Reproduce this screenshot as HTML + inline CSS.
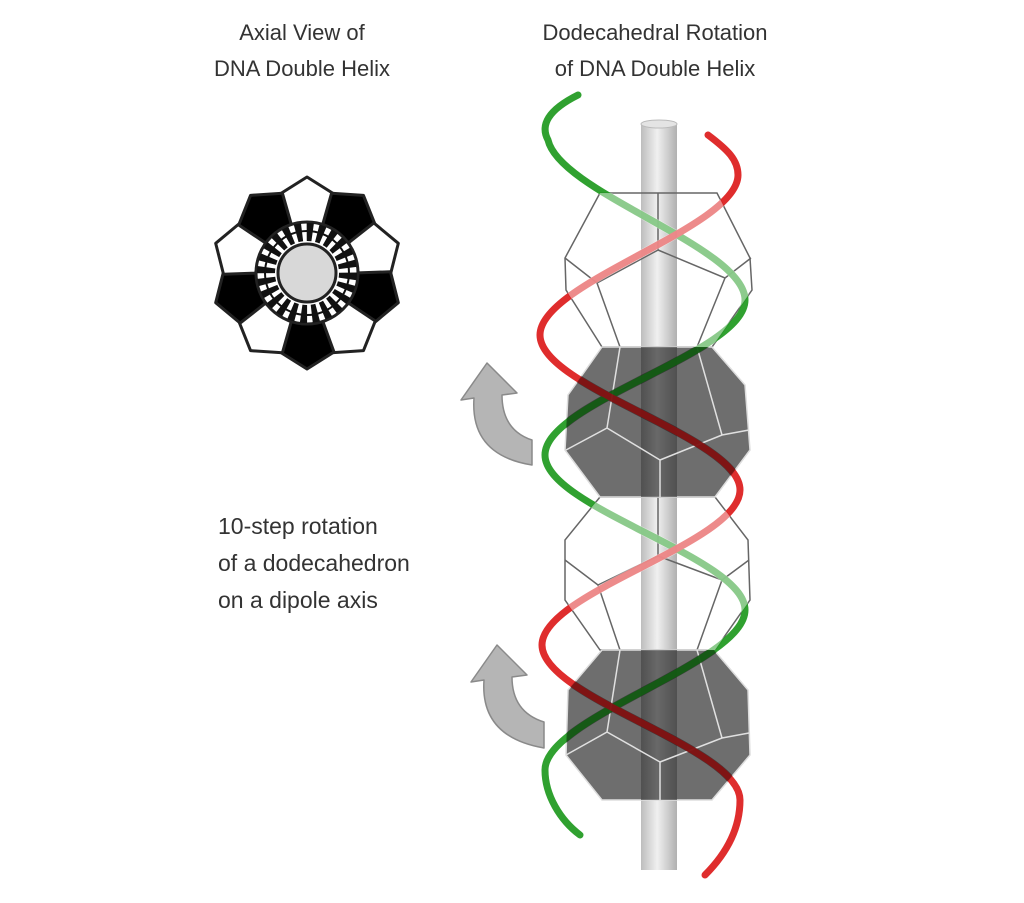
<!DOCTYPE html>
<html><head><style>
html,body{margin:0;padding:0;background:#fff}
svg{display:block}
text{font-family:"Liberation Sans",sans-serif;fill:#333}
</style></head><body>
<svg width="1024" height="903" viewBox="0 0 1024 903" xmlns="http://www.w3.org/2000/svg">
<defs>
<linearGradient id="rod" x1="0" x2="1">
<stop offset="0" stop-color="#bdbdbd"/><stop offset="0.45" stop-color="#f0f0f0"/><stop offset="1" stop-color="#b0b0b0"/>
</linearGradient>
<linearGradient id="rodd" x1="0" x2="1">
<stop offset="0" stop-color="#444"/><stop offset="0.45" stop-color="#666"/><stop offset="1" stop-color="#444"/>
</linearGradient>
<clipPath id="cw">
<polygon points="600,193 717,193 750,258 752,290 712,347 602,347 566,290 565,258"/>
<polygon points="600,497 715,497 748,540 750,600 715,650 600,650 565,600 565,540"/>
</clipPath>
<clipPath id="cg">
<polygon points="602,347 712,347 745,385 750,450 715,497 600,497 565,450 568,395"/>
<polygon points="602,650 714,650 748,690 750,755 712,800 602,800 566,755 568,690"/>
</clipPath>
<path id="gs" d="M578,95 C548,110 540,125 548,140 C560,193 745,247 745,300 C745,353 545,402 545,455 C545,508 745,557 745,610 C745,663 545,717 545,770 C545,795 560,820 580,835"/>
<path id="rs" d="M708,135 C728,150 738,160 738,175 C738,228 540,282 540,335 C540,388 740,437 740,490 C740,543 542,592 542,645 C542,698 740,747 740,800 C740,830 725,855 705,875"/>
</defs>
<rect width="1024" height="903" fill="#fff"/>
<g font-size="22" text-anchor="middle">
<text x="302" y="40">Axial View of</text>
<text x="302" y="76">DNA Double Helix</text>
<text x="655" y="40">Dodecahedral Rotation</text>
<text x="655" y="76">of DNA Double Helix</text>
</g>
<g font-size="23">
<text x="218" y="534">10-step rotation</text>
<text x="218" y="571">of a dodecahedron</text>
<text x="218" y="608">on a dipole axis</text>
</g>

<!-- axial view -->
<g transform="translate(307,273)" stroke="#222" stroke-width="3" stroke-linejoin="round">
<polygon points="-16,-49 -27,-79 0,-96 27,-79 16,-49" fill="#fff"/>
<polygon transform="rotate(36)" points="-16,-49 -27,-79 0,-96 27,-79 16,-49" fill="#000"/>
<polygon transform="rotate(72)" points="-16,-49 -27,-79 0,-96 27,-79 16,-49" fill="#fff"/>
<polygon transform="rotate(108)" points="-16,-49 -27,-79 0,-96 27,-79 16,-49" fill="#000"/>
<polygon transform="rotate(144)" points="-16,-49 -27,-79 0,-96 27,-79 16,-49" fill="#fff"/>
<polygon transform="rotate(180)" points="-16,-49 -27,-79 0,-96 27,-79 16,-49" fill="#000"/>
<polygon transform="rotate(216)" points="-16,-49 -27,-79 0,-96 27,-79 16,-49" fill="#fff"/>
<polygon transform="rotate(252)" points="-16,-49 -27,-79 0,-96 27,-79 16,-49" fill="#000"/>
<polygon transform="rotate(288)" points="-16,-49 -27,-79 0,-96 27,-79 16,-49" fill="#fff"/>
<polygon transform="rotate(324)" points="-16,-49 -27,-79 0,-96 27,-79 16,-49" fill="#000"/>
<circle r="51" fill="#fff"/>
<circle r="41" fill="none" stroke="#111" stroke-width="18" stroke-dasharray="6 4.7"/>
<circle r="42" fill="none" stroke="#111" stroke-width="2"/>
<circle r="29" fill="#d8d8d8" stroke="#222" stroke-width="3"/>
</g>

<!-- rod -->
<rect x="641" y="124" width="36" height="746" fill="url(#rod)"/>
<ellipse cx="659" cy="124" rx="18" ry="4" fill="#e4e4e4" stroke="#bbb"/>

<!-- white blocks -->
<g fill="none" stroke="#666" stroke-width="1.5">
<polygon points="600,193 717,193 750,258 752,290 712,347 602,347 566,290 565,258"/>
<path d="M658,193 L658,250 L597,283 L565,258 M597,283 L620,347 M658,250 L725,278 L751,258 M725,278 L697,347"/>
<polygon points="600,497 715,497 748,540 750,600 715,650 600,650 565,600 565,540"/>
<path d="M658,497 L658,556 L598,585 L565,560 M598,585 L620,650 M658,556 L722,580 L749,560 M722,580 L697,650"/>
</g>
<!-- gray blocks -->
<g stroke="#ddd" stroke-width="1.5">
<polygon points="602,347 712,347 745,385 750,450 715,497 600,497 565,450 568,395" fill="#6e6e6e"/>
<polygon points="602,650 714,650 748,690 750,755 712,800 602,800 566,755 568,690" fill="#6e6e6e"/>
</g>
<rect x="641" y="347" width="36" height="150" fill="url(#rodd)" opacity="0.7"/>
<rect x="641" y="650" width="36" height="150" fill="url(#rodd)" opacity="0.7"/>
<g fill="none" stroke="#e0e0e0" stroke-width="1.5">
<path d="M620,347 L607,428 L566,450 M607,428 L660,460 L660,497 M660,460 L722,435 L749,430 M697,347 L722,435"/>
<path d="M620,650 L607,732 L566,755 M607,732 L660,762 L660,800 M660,762 L722,738 L749,733 M697,650 L722,738"/>
</g>

<!-- helices -->
<g fill="none" stroke-width="7" stroke-linecap="round" opacity="0.92">
<use href="#gs" stroke="#1f9a1f"/>
<use href="#rs" stroke="#dd1c1c"/>
</g>
<g fill="none" stroke-width="8" clip-path="url(#cw)" stroke="#fff" opacity="0.45">
<use href="#gs"/><use href="#rs"/>
</g>
<g fill="none" stroke-width="8" clip-path="url(#cg)" stroke="#000" opacity="0.4">
<use href="#gs"/><use href="#rs"/>
</g>

<!-- arrows -->
<g fill="#b5b5b5" stroke="#8a8a8a" stroke-width="1.5" stroke-linejoin="round">
<path d="M487,363 L517,393 L502,395 Q502,430 532,440 L532,465 Q470,455 474,398 L461,400 Z"/>
<path d="M497,645 L527,675 L512,677 Q512,712 544,722 L544,748 Q480,737 484,680 L471,682 Z"/>
</g>
</svg>
</body></html>
